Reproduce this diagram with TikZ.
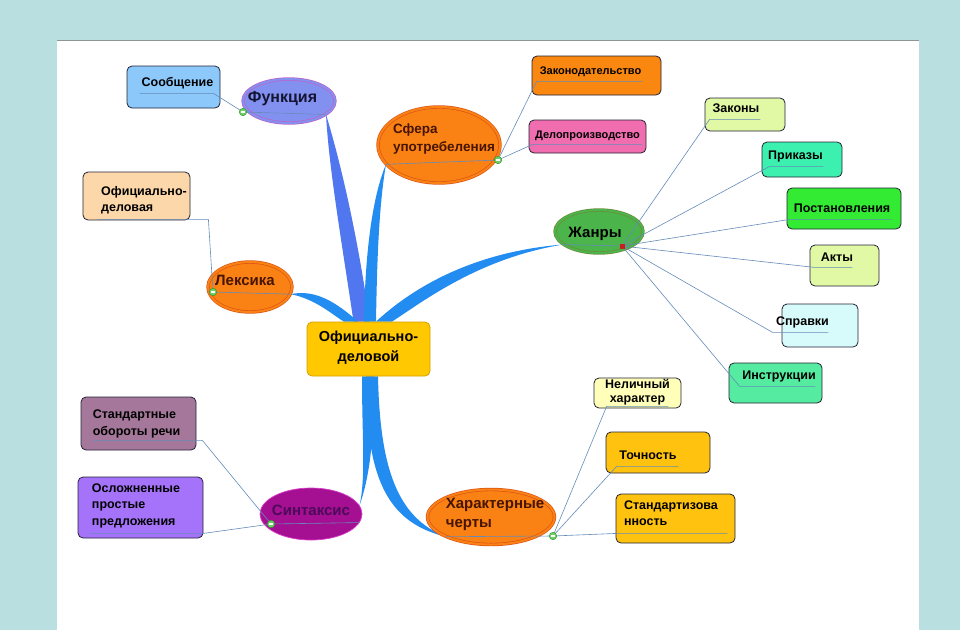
\documentclass[tikz,border=0pt]{standalone}
\usepackage{fontspec}
\newfontfamily\mmfont{Liberation Sans}
\usetikzlibrary{shapes.geometric,calc,backgrounds}

\definecolor{frameteal}{RGB}{185,223,225}
\definecolor{framegray}{RGB}{140,150,150}
\definecolor{boxline}{RGB}{35,35,55}
\definecolor{linkblue}{RGB}{100,140,185}
\definecolor{branchblue}{RGB}{35,140,240}
\definecolor{branchviolet}{RGB}{80,118,240}
\definecolor{dotgreen}{RGB}{110,205,100}
\definecolor{dotedge}{RGB}{40,150,40}
\definecolor{reddot}{RGB}{200,30,30}
\definecolor{rootfill}{RGB}{255,200,0}
\definecolor{rootedge}{RGB}{210,160,0}
\definecolor{funfill}{RGB}{130,145,240}
\definecolor{funedge}{RGB}{190,100,200}
\definecolor{orfill}{RGB}{250,130,20}
\definecolor{oredge}{RGB}{220,85,20}
\definecolor{zhfill}{RGB}{75,180,75}
\definecolor{zhedge}{RGB}{110,140,60}
\definecolor{sintfill}{RGB}{165,15,145}
\definecolor{sintedge}{RGB}{215,60,200}
\definecolor{sinttext}{RGB}{75,10,90}
\definecolor{ortext}{RGB}{70,20,0}
\definecolor{funtext}{RGB}{20,20,50}
\definecolor{soobfill}{RGB}{140,200,250}
\definecolor{zakonfill}{RGB}{250,135,15}
\definecolor{delofill}{RGB}{240,110,175}
\definecolor{ofdfill}{RGB}{252,215,170}
\definecolor{limefill}{RGB}{225,248,165}
\definecolor{aquafill}{RGB}{60,240,175}
\definecolor{postfill}{RGB}{50,235,50}
\definecolor{icefill}{RGB}{215,250,250}
\definecolor{mintfill}{RGB}{85,235,160}
\definecolor{creamfill}{RGB}{255,255,185}
\definecolor{goldfill}{RGB}{255,195,15}
\definecolor{mauvefill}{RGB}{165,120,155}
\definecolor{oslofill}{RGB}{165,115,250}

% text of a topic: [column]{x shift}{y shift}{lines}
\newcommand\mmtext[4][l]{\makebox[0pt]{\kern#2\kern#2\raisebox{\dimexpr#3-3pt\relax}[0pt][0pt]{\begin{tabular}{@{}#1@{}}#4\end{tabular}}}}

\begin{document}
\begin{tikzpicture}[x=1pt,y=-1pt,
    box/.style={draw=boxline,line width=0.8pt,rounded corners=5pt,inner sep=0pt,
      font=\mmfont\bfseries\fontsize{12.5}{16.5}\selectfont},
    topic/.style={ellipse,inner sep=0pt,line width=0.7pt,
      font=\mmfont\bfseries\fontsize{15}{19}\selectfont},
    link/.style={draw=linkblue,line width=0.6pt},
    dot/.style={circle,draw=dotedge,fill=dotgreen,line width=0.4pt,minimum size=7.5pt,inner sep=0pt,
      path picture={\draw[white,line width=1.2pt] ([xshift=-2pt]path picture bounding box.center) -- ([xshift=2pt]path picture bounding box.center);}}
]
% centre and main topics
\node[box,fill=rootfill,draw=rootedge,minimum width=123pt,minimum height=54pt,
  font=\mmfont\bfseries\fontsize{14.5}{20}\selectfont] (root) at (368.5,349) {\mmtext[c]{0pt}{1pt}{Официально-\\деловой}};
\node[topic,fill=funfill,draw=funedge,double=funfill,double distance=2pt,minimum width=92pt,minimum height=44pt,
  text=funtext,font=\mmfont\bfseries\fontsize{16}{20}\selectfont] (fun) at (289,101) {\mmtext{-6.5pt}{1pt}{Функция}};
\node[topic,fill=orfill,draw=oredge,double=orfill,double distance=2pt,minimum width=122pt,minimum height=76pt,
  text=ortext,font=\mmfont\bfseries\fontsize{13.5}{18}\selectfont] (sfera) at (439,145) {\mmtext{5pt}{6pt}{Сфера\\употребеления}};
\node[topic,fill=orfill,draw=oredge,double=orfill,double distance=2pt,minimum width=84pt,minimum height=50pt,
  text=ortext] (lex) at (250,287) {\mmtext{-5pt}{5pt}{Лексика}};
\node[topic,fill=zhfill,draw=zhedge,double=zhfill,double distance=2pt,minimum width=88pt,minimum height=43pt] (zhanr) at (599,231.5) {\mmtext{-4pt}{-3pt}{Жанры}};
\node[topic,fill=sintfill,draw=sintedge,minimum width=102pt,minimum height=52pt,text=sinttext] (sint) at (311,514) {\mmtext{0pt}{2pt}{Синтаксис}};
\node[topic,fill=orfill,draw=oredge,double=orfill,double distance=2pt,minimum width=127pt,minimum height=55pt,
  text=ortext] (xar) at (491,517) {\mmtext{4pt}{2.5pt}{Характерные\\черты}};

% subtopics
\node[box,fill=soobfill,minimum width=93pt,minimum height=42pt] (soob) at (173.5,87) {\mmtext{4pt}{4pt}{Сообщение}};
\node[box,fill=zakonfill,minimum width=129pt,minimum height=39pt,font=\mmfont\bfseries\fontsize{11}{14}\selectfont] (zakon) at (596.5,75.5) {\mmtext{-6pt}{4pt}{Законодательство}};
\node[box,fill=delofill,minimum width=117pt,minimum height=33pt,font=\mmfont\bfseries\fontsize{11}{14}\selectfont] (delo) at (587.5,136.5) {\mmtext{0pt}{1.5pt}{Делопроизводство}};
\node[box,fill=ofdfill,minimum width=107pt,minimum height=48pt] (ofd) at (136.5,196) {\mmtext{7.5pt}{-4pt}{Официально-\\деловая}};
\node[box,fill=limefill,minimum width=80pt,minimum height=33pt] (zakony) at (745,114.5) {\mmtext{-9pt}{5pt}{Законы}};
\node[box,fill=aquafill,minimum width=80pt,minimum height=35pt] (prik) at (802,159.5) {\mmtext{-6.5pt}{3.5pt}{Приказы}};
\node[box,fill=postfill,minimum width=114pt,minimum height=41pt] (post) at (844,208.5) {\mmtext{-2pt}{-1pt}{Постановления}};
\node[box,fill=limefill,minimum width=69pt,minimum height=41pt] (akty) at (844.5,265.5) {\mmtext{-7.5pt}{7pt}{Акты}};
\node[box,fill=icefill,minimum width=76pt,minimum height=43pt] (sprav) at (820,325.5) {\mmtext{-17.5pt}{3pt}{Справки}};
\node[box,fill=mintfill,minimum width=93pt,minimum height=40pt] (instr) at (775.5,383) {\mmtext{3.5pt}{7pt}{Инструкции}};
\node[box,fill=creamfill,minimum width=87pt,minimum height=30pt,font=\mmfont\bfseries\fontsize{12.5}{14}\selectfont] (nelich) at (637.5,393) {\mmtext[c]{0pt}{0pt}{Неличный\\характер}};
\node[box,fill=goldfill,minimum width=104pt,minimum height=41pt] (tochn) at (658,452.5) {\mmtext{-10pt}{-3.5pt}{Точность}};
\node[box,fill=goldfill,minimum width=119pt,minimum height=49pt] (stand) at (675.5,518.5) {\mmtext{-4.5pt}{4.5pt}{Стандартизова\\нность}};
\node[box,fill=mauvefill,minimum width=115pt,minimum height=53pt] (obor) at (138.5,423.5) {\mmtext{-2pt}{0pt}{Стандартные\\обороты речи}};
\node[box,fill=oslofill,minimum width=125pt,minimum height=61pt] (oslo) at (140.5,507.5) {\mmtext{-4.5pt}{2pt}{Осложненные\\простые\\предложения}};

\coordinate (fundot) at (243,112);
\coordinate (sfdot) at (498,160);
\coordinate (lexdot) at (213,292);
\coordinate (zhdot) at (622,246);
\coordinate (xardot) at (553,536);
\coordinate (sintdot) at (271,524);

\begin{scope}[on background layer]
  \fill[frameteal] (0,0) rectangle (960,630);
  \fill[white] (57,40) rectangle (919,630);
  \draw[framegray,line width=1.2pt] (57,40.5) -- (919,40.5);
  % main branches
  \fill[branchviolet] ([xshift=-15pt]root.north) .. controls (343,250) and (329,170) .. (fun.-20)
    .. controls (343,170) and (360,250) .. ([xshift=1pt]root.north) -- cycle;
  \fill[branchblue] ([xshift=-4.5pt]root.north) .. controls (365,260) and (371,200) .. (sfera.200)
    .. controls (379,205) and (377,260) .. ([xshift=7.5pt]root.north) -- cycle;
  \fill[branchblue] ([xshift=-10.5pt]root.north) .. controls (336,302) and (315,289) .. (lex.-10)
    .. controls (316,299) and (334,316) .. ([xshift=-24.5pt]root.north) -- cycle;
  \fill[branchblue] ([xshift=7.5pt]root.north) .. controls (410,290) and (470,252) .. (zhanr.200)
    .. controls (480,258) and (425,300) .. ([xshift=23.5pt]root.north) -- cycle;
  \fill[branchblue] ([xshift=-6.5pt]root.south) .. controls (362,440) and (366,475) .. (sint.10)
    .. controls (370,475) and (374,440) .. ([xshift=5.5pt]root.south) -- cycle;
  \fill[branchblue] ([xshift=-2.5pt]root.south) .. controls (366,475) and (385,522) .. (xar.south west)
    .. controls (398,518) and (380,470) .. ([xshift=9.5pt]root.south) -- cycle;
\end{scope}

% thin links with underlines
\draw[link] (fun.-20) -- (fundot) -- ($(soob.south east)+(-7,-15)$) -- ($(soob.south west)+(13,-15)$);
\draw[link] (sfera.200) -- (sfdot);
\draw[link] (sfdot) -- ($(zakon.south west)+(5,-14)$) -- ($(zakon.south east)+(-19,-14)$);
\draw[link] (sfdot) -- ($(delo.south west)+(4,-9)$) -- ($(delo.south east)+(-4,-9)$);
\draw[link] (lex.-10) -- (lexdot) -- ($(ofd.south east)+(18,-1)$) -- ($(ofd.south west)+(15,-1)$);
\draw[link] (zhanr.200) -- (zhdot);
\foreach \n/\a/\b/\h in {zakony/5/-25/-12,prik/8/-19/-11,post/3/-9/-10,akty/5/-27/-19,sprav/-9/-30/-15,instr/11/-7/-17}
  \draw[link] (zhdot) -- ($(\n.south west)+(\a,\h)$) -- ($(\n.south east)+(\b,\h)$);
\draw[link] (xar.south west) -- (xardot);
\foreach \n/\a/\b/\h in {nelich/13/-13/-2,tochn/11/-32/-7,stand/1/-8/-10}
  \draw[link] (xardot) -- ($(\n.south west)+(\a,\h)$) -- ($(\n.south east)+(\b,\h)$);
\draw[link] (sint.-10) -- (sintdot);
\draw[link] (sintdot) -- ($(obor.south east)+(6,-10)$) -- ($(obor.south west)+(12,-10)$);
\draw[link] (sintdot) -- ($(oslo.south east)+(0,-5)$) -- ($(oslo.south west)+(12,-5)$);

\foreach \d in {fundot,sfdot,lexdot,xardot,sintdot}
  \node[dot] (\d-mark) at (\d) {};
\node[fill=reddot,minimum size=5pt,inner sep=0pt] (zhdot-mark) at (zhdot) {};
\end{tikzpicture}
\end{document}
